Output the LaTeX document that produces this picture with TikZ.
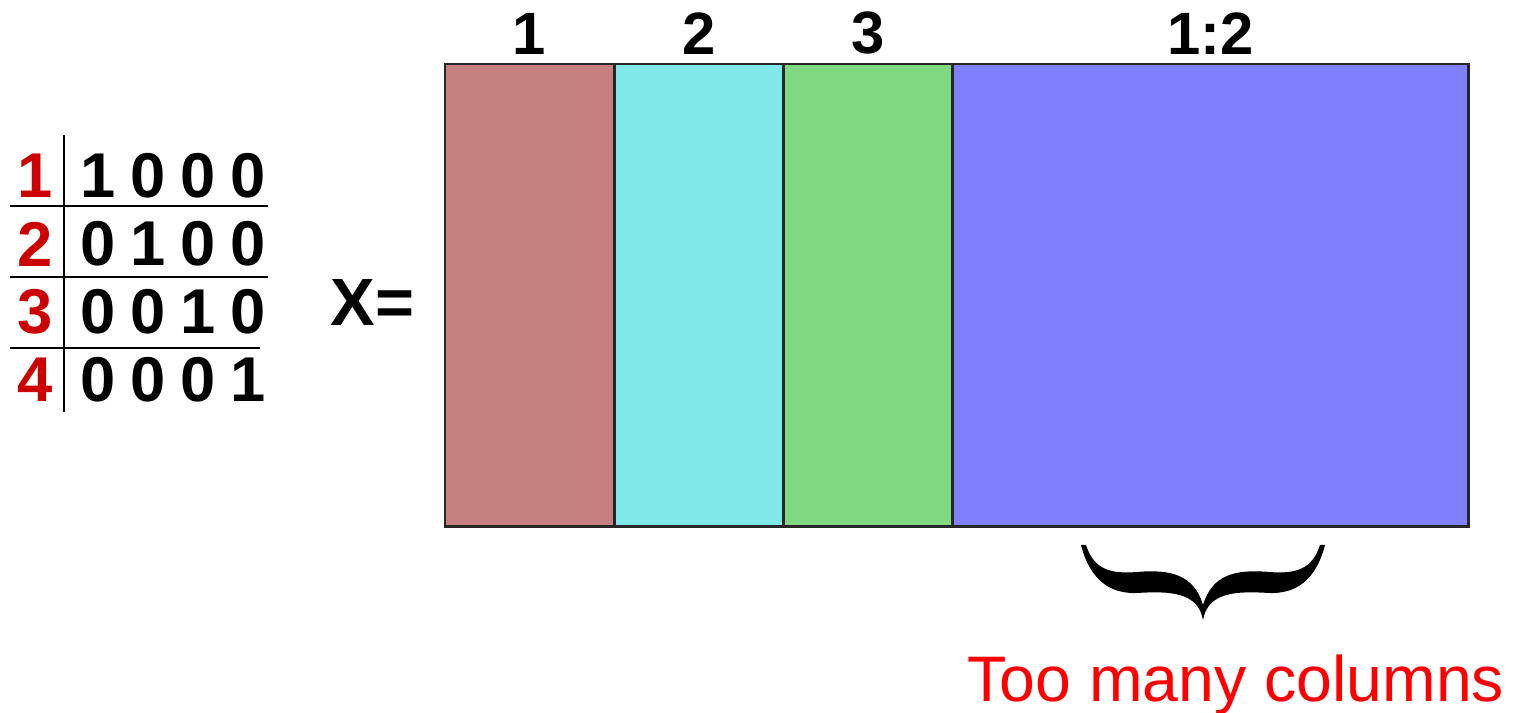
\documentclass[tikz,border=0pt]{standalone}
\usepackage{fontspec}
\setmainfont{Liberation Sans}
\usepackage{xcolor}
\usepackage{tikz}
\usetikzlibrary{positioning}
\definecolor{colrose}{RGB}{198,128,128}
\definecolor{colcyan}{RGB}{128,232,232}
\definecolor{colgreen}{RGB}{128,216,128}
\definecolor{colblue}{RGB}{128,128,255}
\definecolor{rowred}{RGB}{204,0,0}
\definecolor{notered}{RGB}{255,0,0}

\begin{document}
\begin{tikzpicture}[x=0.01cm, y=-0.01cm,
  colbox/.style={draw=black!85, line width=0.8pt, minimum height=4.62cm, inner sep=0pt, outer sep=0pt},
  collabel/.style={font=\fontsize{17}{17}\bfseries\selectfont, inner sep=0pt},
  rowlabel/.style={font=\fontsize{18}{18}\bfseries\selectfont, text=rowred, inner sep=0pt},
  bit/.style={font=\fontsize{18}{18}\bfseries\selectfont, inner sep=0pt},
  rule/.style={line width=0.6pt},
  eqlabel/.style={font=\fontsize{19}{19}\bfseries\selectfont, inner sep=0pt},
  note/.style={font=\fontsize{18.3}{18.3}\selectfont, text=notered, inner sep=0pt}
]
\useasboundingbox (0,0) rectangle (1518,713);

% indicator table
\foreach \r/\yy/\bits in {1/176/{1,0,0,0},2/244/{0,1,0,0},3/312/{0,0,1,0},4/380/{0,0,0,1}}{
  \node[rowlabel] (r\r) at (35,\yy) {\r};
  \foreach \b [count=\c] in \bits
    \node[bit] (b\r\c) at (48+50*\c,\yy) {\b};
}
\draw[rule] (64,135) -- (64,412);
\draw[rule] (10,206) -- (268,206);
\draw[rule] (10,277) -- (268,277);
\draw[rule] (10,348) -- (260,348);

% design matrix
\node[colbox, fill=colrose, minimum width=1.69cm, anchor=north west] (c1) at (445,64) {};
\node[colbox, fill=colcyan, minimum width=1.69cm, right=0pt of c1] (c2) {};
\node[colbox, fill=colgreen, minimum width=1.69cm, right=0pt of c2] (c3) {};
\node[colbox, fill=colblue, minimum width=5.16cm, right=0pt of c3] (c4) {};

\node[collabel, above=0.09cm of c1] (l1) {1};
\node[collabel, above=0.09cm of c2] (l2) {2};
\node[collabel, above=0.09cm of c3] (l3) {3};
\node[collabel, above=0.09cm of c4] (l4) {1:2};

\node[eqlabel, left=0.3cm of c1, yshift=-0.07cm] (eq) {X=};

% brace under the extra columns
\coordinate (tip) at (1203,620);
\fill (1081,545) .. controls (1090,580) and (1110,594) .. (1137,593)
  .. controls (1170,591) and (1198,592) .. (tip)
  .. controls (1208,592) and (1236,591) .. (1269,593)
  .. controls (1296,594) and (1316,580) .. (1325,545)
  -- (1320,545)
  .. controls (1312,570) and (1295,574) .. (1269,572)
  .. controls (1235,569) and (1212,575) .. (1203,605)
  .. controls (1194,575) and (1171,569) .. (1137,572)
  .. controls (1111,574) and (1094,570) .. (1086,545) -- cycle;

\node[note, anchor=base] (toomany) at (1236,702) {Too many columns};
\end{tikzpicture}
\end{document}
